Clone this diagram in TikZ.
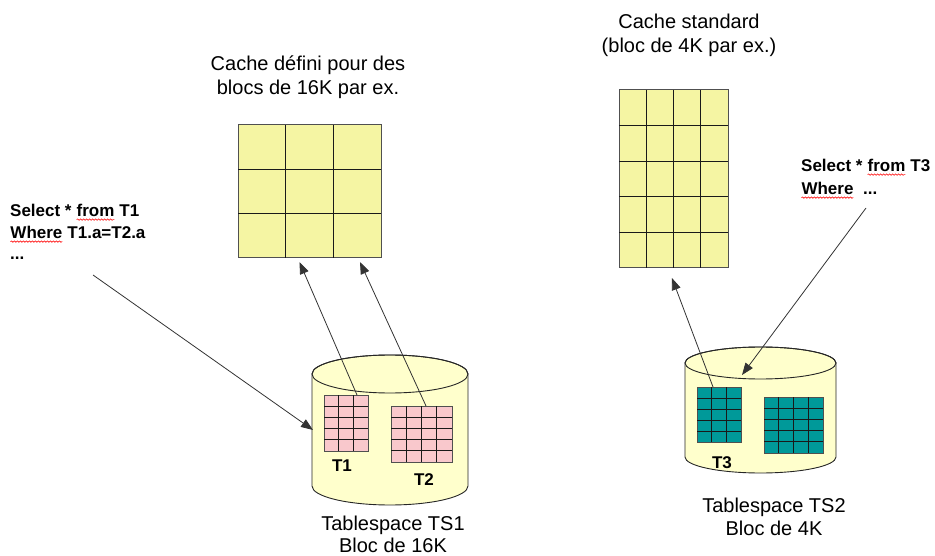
\documentclass[tikz,border=0pt]{standalone}
\usepackage{fontspec}
\setmainfont{Liberation Sans}
\usetikzlibrary{arrows.meta,calc,fit,decorations.pathmorphing}

\definecolor{cachefill}{HTML}{F5F5A3}
\definecolor{diskfill}{HTML}{FFFFCC}
\definecolor{rosefill}{HTML}{F9C8CC}
\definecolor{tealfill}{HTML}{009999}
\definecolor{edgegray}{HTML}{505050}

\tikzset{
  gridframe/.style={draw=edgegray, line width=1pt, inner sep=0pt, outer sep=0pt},
  gridline/.style={draw=black!90, line width=1pt},
  disk/.style={fill=diskfill, draw=black!85, line width=0.9pt},
  flow/.style={draw=black!80, line width=0.8pt, -{Triangle[length=12pt,width=9pt]}},
  bigtext/.style={font=\fontsize{20}{24}\selectfont, inner sep=0pt, anchor=base},
  sqltext/.style={font=\bfseries\fontsize{17}{22}\selectfont, inner sep=0pt, anchor=base west},
  tabletag/.style={font=\bfseries\fontsize{17}{20}\selectfont, inner sep=0pt, anchor=base},
  spellline/.style={draw=red, line width=0.6pt, decorate,
    decoration={snake, amplitude=0.7pt, segment length=3pt}},
}

% word with a red wavy underline
\newcommand\spellmark[1]{\tikz[baseline=(sw.base)]{%
  \node[inner sep=0pt, outer sep=0pt, anchor=base] (sw) at (0,0) {#1};
  \draw[spellline] ([yshift=-2.6pt]sw.base west) -- ([yshift=-2.6pt]sw.base east);}}

% block grid: name, x0, y0, x1, y1, columns, rows, fill
\newcommand\blockgrid[8]{%
  \node[gridframe, fill=#8, fit={(#2,#3) (#4,#5)}] (#1) {};
  \pgfmathtruncatemacro\lastcol{#6-1}
  \pgfmathtruncatemacro\lastrow{#7-1}
  \foreach \k in {1,...,\lastcol}
    \draw[gridline] ($(#1.north west)!{\k/#6}!(#1.north east)$) -- ($(#1.south west)!{\k/#6}!(#1.south east)$);
  \foreach \k in {1,...,\lastrow}
    \draw[gridline] ($(#1.north west)!{\k/#7}!(#1.south west)$) -- ($(#1.north east)!{\k/#7}!(#1.south east)$);
}

% tablespace drum: centre x, half width, top y, bottom y, ellipse half height
\newcommand\diskdrum[5]{%
  \path[disk] (#1-#2,#3) -- (#1-#2,#4)
    arc[start angle=180, end angle=0, x radius=#2, y radius=#5]
    -- (#1+#2,#3)
    arc[start angle=0, end angle=-180, x radius=#2, y radius=#5] -- cycle;
  \draw[disk, fill=none] (#1,#3) ellipse[x radius=#2, y radius=#5];
}

\begin{document}
\begin{tikzpicture}[x=1pt,y=-1pt]
\useasboundingbox (0,0) rectangle (935,556);

% tablespaces
\diskdrum{390}{78}{374}{486}{19}
\diskdrum{760.5}{75.5}{363}{457}{16}

% caches and tables
\blockgrid{cacheL}{238}{125}{381}{258}{3}{3}{cachefill}
\blockgrid{cacheR}{619}{90}{728}{268}{4}{5}{cachefill}
\blockgrid{tabA}{324}{395}{368}{451}{3}{5}{rosefill}
\blockgrid{tabB}{391}{406}{452}{462}{4}{5}{rosefill}
\blockgrid{tabC}{697}{387}{741}{442}{3}{5}{tealfill}
\blockgrid{tabD}{764}{397}{823}{453}{4}{5}{tealfill}

% captions
\node[bigtext] (capL1) at (308,71) {Cache défini pour des};
\node[bigtext] (capL2) at (308,95) {blocs de 16K par ex.};
\node[bigtext] (capR1) at (689,29) {Cache standard};
\node[bigtext] (capR2) at (689,53) {(bloc de 4K par ex.)};
\node[bigtext] (ts1a) at (393,530) {Tablespace TS1};
\node[bigtext] (ts1b) at (393,552) {Bloc de 16K};
\node[bigtext] (ts2a) at (774,512) {Tablespace TS2};
\node[bigtext] (ts2b) at (774,535) {Bloc de 4K};

\node[tabletag] (tagA) at (342,471) {T1};
\node[tabletag] (tagB) at (424,485) {T2};
\node[tabletag] (tagC) at (722,468) {T3};

% queries
\node[sqltext] (sqlA1) at (10,217) {Select * \spellmark{from} T1};
\node[sqltext] (sqlA2) at (10,239) {\spellmark{Where} T1.a=T2.a};
\node[sqltext] (sqlA3) at (10,260) {...};
\node[sqltext] (sqlB1) at (801,172) {Select * \spellmark{from} T3};
\node[sqltext] (sqlB2) at (801,195) {\spellmark{Where}\ \ ...};

% flows
\coordinate (q1) at (93,275);
\coordinate (q1end) at (313,430);
\coordinate (q2) at (866,208);
\coordinate (q2end) at (742,375);
\draw[flow] (q1) -- (q1end);
\draw[flow] (q2) -- (q2end);
\draw[flow] ($(tabA.north west)!0.75!(tabA.north east)$) -- ($(cacheL.south west)!0.43!(cacheL.south east) + (0,4)$);
\draw[flow] ($(tabB.north west)!0.574!(tabB.north east)$) -- ($(cacheL.south west)!0.853!(cacheL.south east) + (0,4)$);
\draw[flow] ($(tabC.north west)!0.364!(tabC.north east)$) -- ($(cacheR.south west)!0.486!(cacheR.south east) + (0,10)$);
\end{tikzpicture}
\end{document}
